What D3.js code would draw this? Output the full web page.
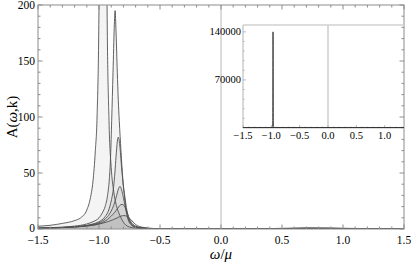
<!DOCTYPE html>
<html>
<head>
<meta charset="utf-8">
<script src="https://cdn.jsdelivr.net/npm/d3@7"></script>
<style>
  body { margin: 0; background: #fff; }
  svg text { font-family: "Liberation Serif", "Times New Roman", serif; }
</style>
</head>
<body>
<div id="chart"></div>
<script>
// spectral function curves, [omega/mu, A]
var curveK1 = [[-1.5,2.5],[-1.4,3.3],[-1.3,5],[-1.2,7.5],[-1.15,10],[-1.1,17],[-1.07,28],[-1.05,42],[-1.03,70],[-1.016,100],[-1.0,200],[-0.99,550],[-0.98,2200],[-0.975,8700],[-0.97,140000],[-0.965,8700],[-0.96,2200],[-0.95,560],[-0.934,200],[-0.918,97],[-0.9,55],[-0.88,34],[-0.86,22],[-0.84,15],[-0.82,10],[-0.8,6],[-0.78,3.5],[-0.75,1.8],[-0.7,0.8],[-0.6,0.3],[-0.5,0.12],[-0.3,0.03],[0,0],[0.3,0.15],[0.5,0.6],[0.7,0.9],[0.9,0.8],[1.1,0.5],[1.3,0.15],[1.5,0.05]];
var curveK2 = [[-1.5,0.9],[-1.4,1.2],[-1.3,1.7],[-1.2,2.6],[-1.1,4.5],[-1.05,6.5],[-1.0,10],[-0.97,15],[-0.95,20],[-0.93,30],[-0.915,45],[-0.905,65],[-0.896,97],[-0.885,140],[-0.875,180],[-0.868,195],[-0.86,175],[-0.85,140],[-0.842,115],[-0.834,97],[-0.82,70],[-0.805,45],[-0.79,28],[-0.78,18],[-0.76,8],[-0.74,4],[-0.7,1.5],[-0.6,0.45],[-0.5,0.18],[-0.3,0.04],[0,0],[0.3,0.1],[0.5,0.4],[0.7,0.7],[0.9,0.6],[1.1,0.35],[1.3,0.1],[1.5,0.03]];
var curveK3 = [[-1.5,0.8],[-1.4,1.0],[-1.3,1.4],[-1.2,2],[-1.1,3.3],[-1.05,4.5],[-1.0,6.5],[-0.95,11],[-0.92,17],[-0.9,25],[-0.88,38],[-0.87,50],[-0.86,65],[-0.85,78],[-0.842,82],[-0.83,75],[-0.815,55],[-0.8,38],[-0.787,28],[-0.775,19],[-0.76,11],[-0.74,5.5],[-0.72,3],[-0.7,2],[-0.65,0.9],[-0.6,0.4],[-0.5,0.15],[-0.3,0.03],[0,0],[0.3,0.1],[0.5,0.35],[0.7,0.6],[0.9,0.55],[1.1,0.3],[1.3,0.1],[1.5,0.03]];
var curveK4 = [[-1.5,0.75],[-1.4,0.95],[-1.3,1.3],[-1.2,1.9],[-1.1,3],[-1.05,4],[-1.0,5.5],[-0.96,8],[-0.93,11],[-0.9,16],[-0.88,21],[-0.86,28],[-0.84,36],[-0.828,38],[-0.815,35],[-0.8,28],[-0.785,20],[-0.77,13],[-0.755,8],[-0.74,5],[-0.72,3],[-0.7,2],[-0.65,0.9],[-0.6,0.45],[-0.5,0.15],[-0.3,0.03],[0,0],[0.3,0.1],[0.5,0.3],[0.7,0.55],[0.9,0.5],[1.1,0.3],[1.3,0.1],[1.5,0.03]];
var curveK5 = [[-1.5,0.7],[-1.4,0.95],[-1.3,1.3],[-1.2,1.8],[-1.1,2.8],[-1.05,3.6],[-1.0,4.8],[-0.96,6.5],[-0.93,8.5],[-0.9,11.5],[-0.87,15],[-0.85,18],[-0.83,21],[-0.81,22],[-0.795,21],[-0.78,18],[-0.765,13.5],[-0.75,9],[-0.735,6],[-0.72,4],[-0.7,2.6],[-0.65,1.1],[-0.6,0.55],[-0.5,0.2],[-0.3,0.04],[0,0],[0.3,0.1],[0.5,0.3],[0.7,0.5],[0.9,0.45],[1.1,0.25],[1.3,0.08],[1.5,0.03]];
var curveK6 = [[-1.5,0.7],[-1.4,0.9],[-1.3,1.2],[-1.2,1.7],[-1.1,2.6],[-1.05,3.3],[-1.0,4.3],[-0.96,5.5],[-0.92,6.8],[-0.88,8.5],[-0.85,10],[-0.82,11.5],[-0.795,12],[-0.775,11.5],[-0.755,10],[-0.735,8],[-0.715,5.5],[-0.7,4],[-0.67,2.3],[-0.63,1.3],[-0.6,0.85],[-0.55,0.45],[-0.5,0.25],[-0.4,0.08],[-0.2,0.02],[0,0],[0.3,0.1],[0.5,0.3],[0.7,0.45],[0.9,0.4],[1.1,0.25],[1.3,0.08],[1.5,0.03]];
var curves = [curveK1, curveK2, curveK3, curveK4, curveK5, curveK6];

var xTicks = [-1.5, -1.0, -0.5, 0.0, 0.5, 1.0, 1.5];
var yTicks = [0, 50, 100, 150, 200];
var insetXTicks = [-1.5, -1.0, -0.5, 0.0, 0.5, 1.0];
var insetYTicks = [70000, 140000];

var W = 411, H = 264;
var svg = d3.select('#chart').append('svg').attr('width', W).attr('height', H);

var x = d3.scaleLinear().domain([-1.5, 1.5]).range([38, 404]);
var y = d3.scaleLinear().domain([0, 200]).range([229, 5]);

function fmt(v) {
  var s = d3.format('.1f')(Math.abs(v));
  return (v < 0 ? '\u2212' : '') + s;
}

svg.append('clipPath').attr('id', 'mainClip').append('rect')
  .attr('x', x(-1.5)).attr('y', y(200)).attr('width', x(1.5) - x(-1.5)).attr('height', y(0) - y(200));

var plot = svg.append('g').attr('clip-path', 'url(#mainClip)');

// zero line
plot.append('line')
  .attr('x1', x(0)).attr('x2', x(0)).attr('y1', y(0)).attr('y2', y(200))
  .attr('stroke', '#b8b8b8').attr('stroke-width', 1);

var area = d3.area().curve(d3.curveMonotoneX)
  .x(function(d) { return x(d[0]); })
  .y0(y(0))
  .y1(function(d) { return y(d[1]); });
var line = d3.line().curve(d3.curveMonotoneX)
  .x(function(d) { return x(d[0]); })
  .y(function(d) { return y(d[1]); });

curves.forEach(function(c) {
  plot.append('path').attr('d', area(c)).attr('fill', '#000').attr('fill-opacity', 0.045);
});
curves.forEach(function(c) {
  plot.append('path').attr('d', line(c)).attr('fill', 'none')
    .attr('stroke', '#505050').attr('stroke-width', 0.9);
});

// frame
var frameColor = '#8c8c8c';
svg.append('rect')
  .attr('x', x(-1.5)).attr('y', y(200)).attr('width', x(1.5) - x(-1.5)).attr('height', y(0) - y(200))
  .attr('fill', 'none').attr('stroke', frameColor).attr('stroke-width', 1);

var ticks = svg.append('g').attr('stroke', frameColor).attr('stroke-width', 1);
d3.range(-15, 16).forEach(function(i) {
  var v = i / 10, major = (i % 5 === 0), len = major ? 4.5 : 2.5;
  ticks.append('line').attr('x1', x(v)).attr('x2', x(v)).attr('y1', y(0)).attr('y2', y(0) - len);
  ticks.append('line').attr('x1', x(v)).attr('x2', x(v)).attr('y1', y(200)).attr('y2', y(200) + len);
});
d3.range(0, 21).forEach(function(i) {
  var v = i * 10, major = (i % 5 === 0), len = major ? 4.5 : 2.5;
  ticks.append('line').attr('x1', x(-1.5)).attr('x2', x(-1.5) + len).attr('y1', y(v)).attr('y2', y(v));
  ticks.append('line').attr('x1', x(1.5)).attr('x2', x(1.5) - len).attr('y1', y(v)).attr('y2', y(v));
});

svg.selectAll('.xlab').data(xTicks).enter().append('text')
  .attr('x', function(d) { return x(d); })
  .attr('y', 243.5)
  .attr('text-anchor', 'middle')
  .attr('font-size', 11.5)
  .text(fmt);

svg.selectAll('.ylab').data(yTicks).enter().append('text')
  .attr('x', 35)
  .attr('y', function(d) { return y(d) + (d === 0 ? 2.5 : 3.5); })
  .attr('text-anchor', 'end')
  .attr('font-size', 11.5)
  .text(function(d) { return d; });

var xl = svg.append('text').attr('x', x(0)).attr('y', 258.5).attr('text-anchor', 'middle').attr('font-size', 15);
xl.append('tspan').attr('font-style', 'italic').text('\u03c9');
xl.append('tspan').text('/');
xl.append('tspan').attr('font-style', 'italic').text('\u03bc');

var yl = svg.append('text').attr('transform', 'translate(17,' + y(100) + ') rotate(-90)')
  .attr('text-anchor', 'middle').attr('font-size', 15);
yl.append('tspan').text('A(');
yl.append('tspan').attr('font-style', 'italic').text('\u03c9');
yl.append('tspan').text(',k)');

// inset: same curves on the full scale
var xi = d3.scaleLinear().domain([-1.5, 1.5]).range([243, 413]);
var yi = d3.scaleLinear().domain([0, 150000]).range([128, 25]);
var insetColor = '#d0d0d0';

svg.append('clipPath').attr('id', 'insetClip').append('rect')
  .attr('x', 243).attr('y', 25).attr('width', 404 - 243).attr('height', 128 - 25);

var inset = svg.append('g');
inset.append('line').attr('x1', 243).attr('x2', 404).attr('y1', yi(150000)).attr('y2', yi(150000))
  .attr('stroke', insetColor).attr('stroke-width', 1.6);
inset.append('line').attr('x1', 243).attr('x2', 243).attr('y1', yi(0)).attr('y2', yi(150000))
  .attr('stroke', insetColor).attr('stroke-width', 1.6);
inset.append('line').attr('x1', 243).attr('x2', 404).attr('y1', yi(0)).attr('y2', yi(0))
  .attr('stroke', insetColor).attr('stroke-width', 1.4);
inset.append('line').attr('x1', xi(0)).attr('x2', xi(0)).attr('y1', yi(0)).attr('y2', yi(150000))
  .attr('stroke', insetColor).attr('stroke-width', 1.6);

var iticks = inset.append('g').attr('stroke', '#aaa').attr('stroke-width', 0.8);
d3.range(-15, 14).forEach(function(i) {
  var v = i / 10, len = (i % 5 === 0) ? 3 : 1.5;
  iticks.append('line').attr('x1', xi(v)).attr('x2', xi(v)).attr('y1', yi(0)).attr('y2', yi(0) - len);
});
d3.range(1, 11).forEach(function(i) {
  var v = i * 14000, len = (i % 5 === 0) ? 3 : 1.5;
  iticks.append('line').attr('x1', 243).attr('x2', 243 + len).attr('y1', yi(v)).attr('y2', yi(v));
});

var iplot = inset.append('g').attr('clip-path', 'url(#insetClip)');
var iline = d3.line().curve(d3.curveMonotoneX)
  .x(function(d) { return xi(d[0]); })
  .y(function(d) { return yi(d[1]); });
curves.forEach(function(c) {
  iplot.append('path').attr('d', iline(c)).attr('fill', 'none')
    .attr('stroke', '#333').attr('stroke-width', 0.9);
});

inset.selectAll('.ixlab').data(insetXTicks).enter().append('text')
  .attr('x', function(d) { return xi(d); })
  .attr('y', 138.5)
  .attr('text-anchor', 'middle')
  .attr('font-size', 10.5)
  .text(fmt);

inset.selectAll('.iylab').data(insetYTicks).enter().append('text')
  .attr('x', 241)
  .attr('y', function(d) { return yi(d) + 3.5; })
  .attr('text-anchor', 'end')
  .attr('font-size', 10.5)
  .text(function(d) { return d; });
</script>
</body>
</html>
